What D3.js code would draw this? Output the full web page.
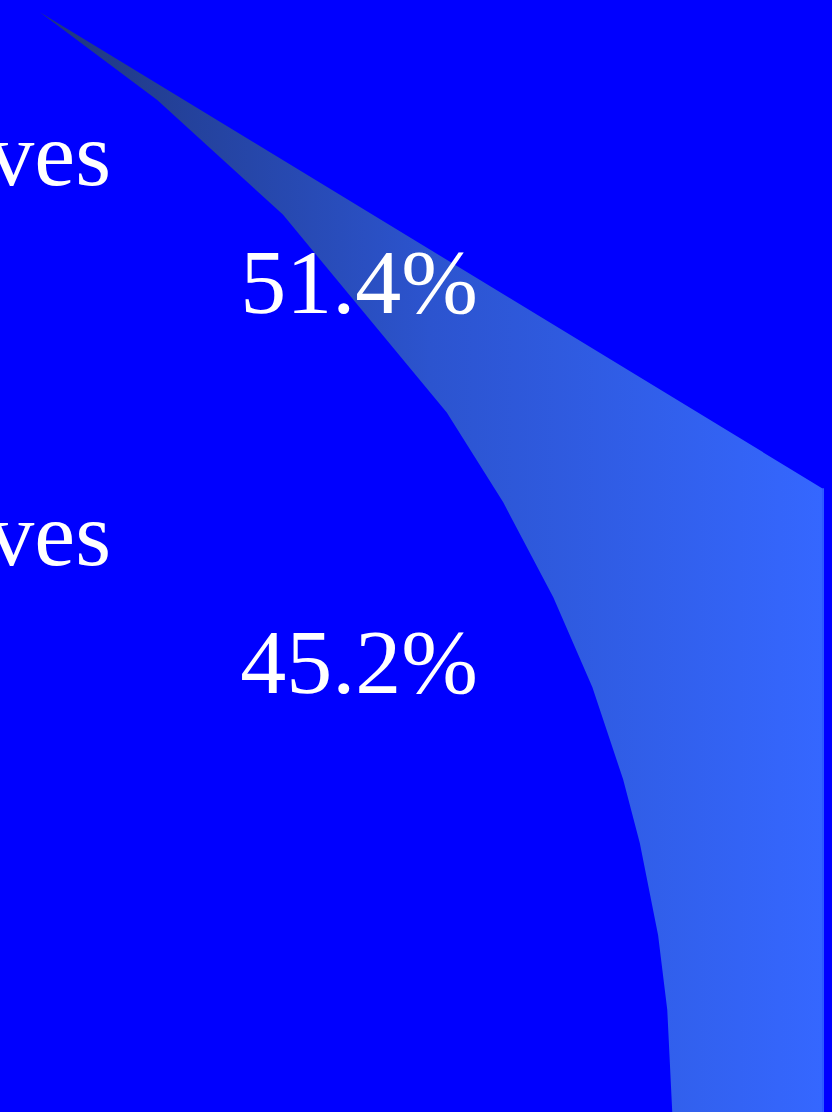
<!DOCTYPE html>
<html>
<head>
<meta charset="utf-8">
<script src="https://cdn.jsdelivr.net/npm/d3@7"></script>
<style>
  html, body { margin: 0; padding: 0; background: #0000ff; overflow: hidden; }
  svg { display: block; }
</style>
</head>
<body>
<svg id="chart" width="832" height="1112"></svg>
<script>
// ---- data (in percent of the frame) ----
const categories = ["ves", "ves"];
const shareLabels = ["51.4%", "45.2%"];
const shareValues = [51.4, 45.2];

// outline of the shaded band: top edge, right edge, bottom, then the curved inner edge back up
const outlineX = [4.8, 98.8, 98.8, 80.8, 80.2, 79.1, 76.9, 74.9, 71.2, 66.5, 60.5, 53.7, 34.0, 18.9];
const outlineY = [1.1, 43.9, 100, 100, 90.8, 84.1, 75.8, 70.1, 61.8, 53.7, 45.2, 37.1, 19.3, 9.0];

// ---- layout ----
const W = 832, H = 1112;
const svg = d3.select("#chart");
const x = d3.scaleLinear().domain([0, 100]).range([0, W]);
const y = d3.scaleLinear().domain([0, 100]).range([0, H]);

const defs = svg.append("defs");
const grad = defs.append("linearGradient")
  .attr("id", "bandGrad")
  .attr("gradientUnits", "userSpaceOnUse")
  .attr("x1", x(d3.min(outlineX))).attr("y1", 0)
  .attr("x2", x(d3.max(outlineX))).attr("y2", 0);
grad.append("stop").attr("offset", "0%").attr("stop-color", "#1f367c");
grad.append("stop").attr("offset", "50%").attr("stop-color", "#2c54cf");
grad.append("stop").attr("offset", "100%").attr("stop-color", "#3567ff");

svg.append("rect").attr("width", W).attr("height", H).attr("fill", "#0000ff");

const pts = outlineX.map((v, i) => [v, outlineY[i]]);
const line = d3.line().x(d => x(d[0])).y(d => y(d[1])).curve(d3.curveLinearClosed);

svg.append("path")
  .attr("d", line(pts))
  .attr("fill", "url(#bandGrad)");

// thin highlight on the right edge
svg.append("line")
  .attr("x1", x(outlineX[1]) + 1).attr("x2", x(outlineX[1]) + 1)
  .attr("y1", y(outlineY[1])).attr("y2", y(outlineY[2]))
  .attr("stroke", "#2e5cff").attr("stroke-width", 2);

// ---- labels ----
const font = "'Liberation Serif', 'Times New Roman', serif";
const catBase = [185, 565];
const valBase = [313, 693];

svg.selectAll("text.cat").data(categories).enter().append("text")
  .attr("class", "cat")
  .attr("x", 111)
  .attr("y", (d, i) => catBase[i])
  .attr("text-anchor", "end")
  .attr("font-family", font)
  .attr("font-size", 92)
  .attr("fill", "#ffffff")
  .text(d => d);

svg.selectAll("text.val").data(shareLabels).enter().append("text")
  .attr("class", "val")
  .attr("x", 359)
  .attr("y", (d, i) => valBase[i])
  .attr("text-anchor", "middle")
  .attr("font-family", font)
  .attr("font-size", 92)
  .attr("fill", "#ffffff")
  .text(d => d);
</script>
</body>
</html>
